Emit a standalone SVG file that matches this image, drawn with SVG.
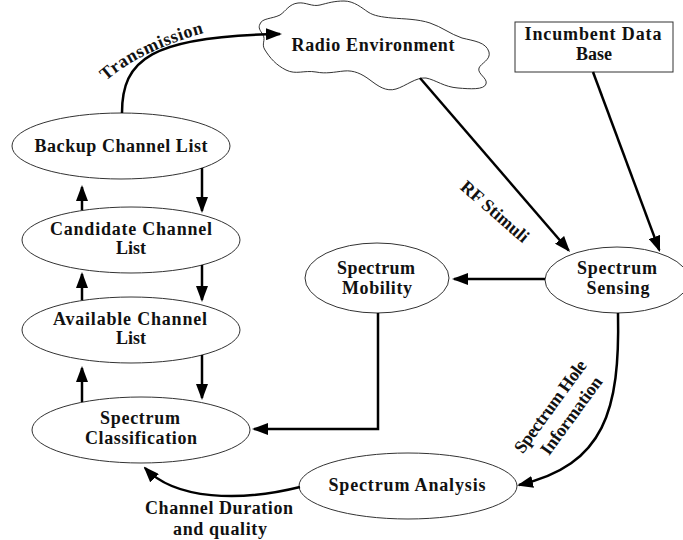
<svg xmlns="http://www.w3.org/2000/svg" width="683" height="540" viewBox="0 0 683 540">
<style>
.node ellipse, .node rect, .node path {fill:#fff; stroke:#333; stroke-width:1}
.lbl {font-family:"Liberation Serif","Times New Roman",serif; font-weight:bold; font-size:18px; fill:#111; text-anchor:middle}
.clbl {font-family:"Liberation Serif","Times New Roman",serif; font-weight:bold; font-size:18px; fill:#111; text-anchor:middle}
.conn {fill:none; stroke:#000; stroke-width:2.5}
</style>
<defs>
<marker id="ah" markerUnits="userSpaceOnUse" markerWidth="16" markerHeight="12" refX="14" refY="6" orient="auto">
<path d="M0,0 L16,6 L0,12 Z" fill="#000"/>
</marker>
<path id="tp" d="M106,81 Q141,50 211,31"/>
</defs>
<rect width="683" height="540" fill="#fff"/>

<g id="radio-environment" class="node">
<path d="M260,24 C262,18 272,19 280,15 C286,11 289,4 298,3 C306,2 312,7 320,5 C328,3 334,1 344,1 C354,1 362,8 368,12 C374,16 382,17 392,18 C404,19 418,19 430,23 C442,27 450,34 462,38 C474,41 486,42 489,52 C491,60 481,63 479,68 C477,74 488,78 486,84 C484,90 470,89 458,88 C444,87 436,80 426,78 C416,77 406,86 396,89 C386,92 378,86 370,80 C362,74 354,70 344,71 C334,72 326,74 316,72 C304,70 296,75 286,70 C276,65 270,58 265,50 C261,44 266,40 263,35 C260,30 258,28 260,24 Z"/>
<text class="lbl" x="373" y="51" textLength="163" lengthAdjust="spacing">Radio Environment</text>
</g>

<g id="incumbent-data-base" class="node">
<rect x="515" y="22" width="158" height="50"/>
<text class="lbl" x="593" y="40" textLength="137" lengthAdjust="spacing">Incumbent Data</text>
<text class="lbl" x="594" y="60">Base</text>
</g>

<g id="backup-channel-list" class="node">
<ellipse cx="121" cy="146" rx="109" ry="33"/>
<text class="lbl" x="121" y="152" textLength="173" lengthAdjust="spacing">Backup Channel List</text>
</g>

<g id="candidate-channel-list" class="node">
<ellipse cx="131" cy="240" rx="109" ry="33"/>
<text class="lbl" x="131" y="235" textLength="162" lengthAdjust="spacing">Candidate Channel</text>
<text class="lbl" x="131" y="254">List</text>
</g>

<g id="available-channel-list" class="node">
<ellipse cx="131" cy="330" rx="109" ry="33"/>
<text class="lbl" x="130" y="325" textLength="154" lengthAdjust="spacing">Available Channel</text>
<text class="lbl" x="131" y="344">List</text>
</g>

<g id="spectrum-classification" class="node">
<ellipse cx="141" cy="430" rx="109" ry="33"/>
<text class="lbl" x="140" y="424" textLength="80" lengthAdjust="spacing">Spectrum</text>
<text class="lbl" x="141" y="444" textLength="112" lengthAdjust="spacing">Classification</text>
</g>

<g id="spectrum-analysis" class="node">
<ellipse cx="408" cy="486" rx="109" ry="33"/>
<text class="lbl" x="407" y="491" textLength="157" lengthAdjust="spacing">Spectrum Analysis</text>
</g>

<g id="spectrum-sensing" class="node">
<ellipse cx="617" cy="280" rx="72" ry="33"/>
<text class="lbl" x="617" y="274" textLength="80" lengthAdjust="spacing">Spectrum</text>
<text class="lbl" x="618" y="294" textLength="63" lengthAdjust="spacing">Sensing</text>
</g>

<g id="spectrum-mobility" class="node">
<ellipse cx="377" cy="278" rx="72" ry="35"/>
<text class="lbl" x="376" y="274" textLength="78" lengthAdjust="spacing">Spectrum</text>
<text class="lbl" x="377" y="294" textLength="70" lengthAdjust="spacing">Mobility</text>
</g>

<g id="connectors" class="conn" marker-end="url(#ah)">
<path d="M122,113 C122,60 150,36 280,34"/>
<path d="M420,78 L568.7,250.5"/>
<path d="M593,72 L659.3,250.1"/>
<path d="M545,279 L454,279"/>
<path d="M378,313 L378,429 L254,429"/>
<path d="M618,313 C620,410 605,465 519,485"/>
<path d="M300,487 C240,502 175,500 145,468"/>
<path d="M82,210 L82,187"/>
<path d="M82,300 L82,274"/>
<path d="M82,402 L82,368"/>
<path d="M202,168 L202,211"/>
<path d="M202,265 L202,300"/>
<path d="M202,355 L202,398"/>
</g>

<g id="connector-labels">
<text class="clbl" style="text-anchor:start"><textPath href="#tp" textLength="110" lengthAdjust="spacing">Transmission</textPath></text>
<text class="clbl" transform="translate(491,216) rotate(41)" textLength="84" lengthAdjust="spacing">RF Stimuli</text>
<text class="clbl" transform="translate(555,410) rotate(-54)" textLength="110" lengthAdjust="spacing">Spectrum Hole</text>
<text class="clbl" transform="translate(576,419) rotate(-54)" textLength="92" lengthAdjust="spacing">Information</text>
<text class="clbl" x="219" y="514" textLength="148" lengthAdjust="spacing">Channel Duration</text>
<text class="clbl" x="220" y="535" textLength="94" lengthAdjust="spacing">and quality</text>
</g>
</svg>
